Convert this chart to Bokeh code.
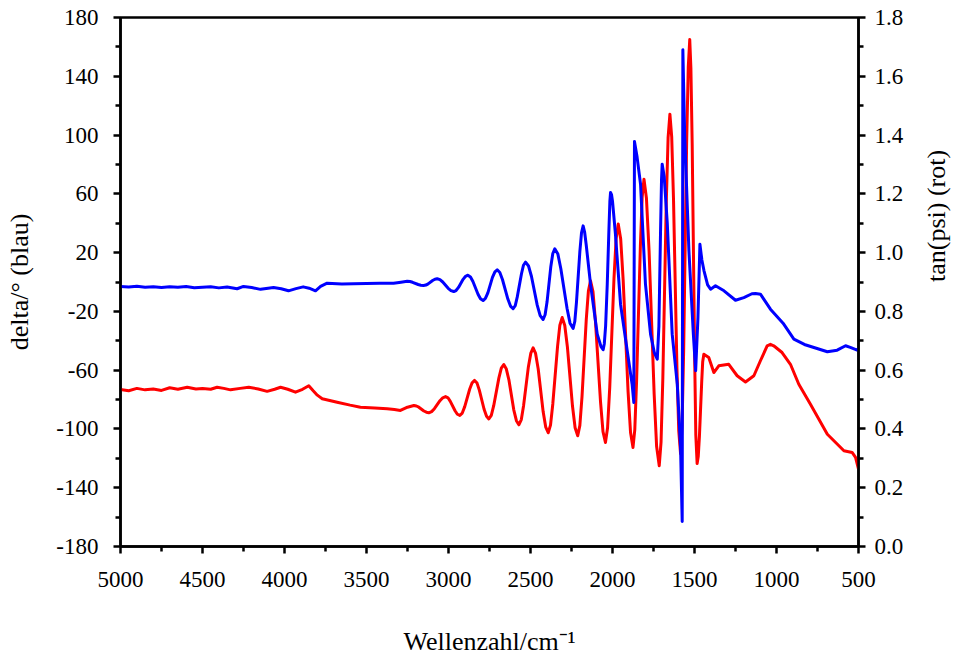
from math import pi

from bokeh.embed import file_html
from bokeh.models import (ColumnDataSource, CustomJSTickFormatter, FixedTicker,
                          LinearAxis, Range1d)
from bokeh.plotting import figure
from bokeh.resources import INLINE

# Ellipsometric spectrum: delta (left axis) and tan(psi) (right axis) vs wavenumber
wn_delta = [5000, 4950, 4900, 4850, 4800, 4750, 4700, 4650, 4600, 4550, 4500, 4450,
            4400, 4350, 4289, 4250, 4200, 4146, 4100, 4067, 4020, 3976, 3930, 3886,
            3850, 3811, 3780, 3740, 3650, 3579, 3500, 3420, 3335, 3290, 3252, 3235,
            3219, 3185, 3169, 3152, 3138, 3124, 3097, 3083, 3069, 3052, 3035, 3002,
            2985, 2968, 2954, 2939, 2911, 2896, 2882, 2866, 2851, 2820, 2805, 2789,
            2775, 2760, 2732, 2717, 2703, 2687, 2671, 2638, 2622, 2606, 2593, 2581,
            2555, 2543, 2530, 2512, 2494, 2459, 2441, 2423, 2411, 2399, 2376, 2364,
            2352, 2333, 2315, 2277, 2259, 2240, 2230, 2220, 2199, 2189, 2179, 2170,
            2160, 2134, 2093, 2070, 2057, 2050, 2042, 2032, 2022, 2016, 2012, 2006,
            2000, 1982, 1951, 1910, 1880, 1870, 1866, 1850, 1829, 1799, 1768, 1745,
            1727, 1717, 1707, 1701, 1697, 1685, 1666, 1636, 1605, 1585, 1575, 1571,
            1560, 1534, 1507, 1493, 1479, 1467, 1455, 1442, 1420, 1402, 1372, 1320,
            1250, 1199, 1150, 1128, 1098, 1037, 960, 894, 830, 772, 690, 630,
            579, 550, 508, 500]
delta = [-3.0, -3.4, -2.9, -3.5, -3.2, -3.8, -3.3, -3.6, -3.1, -3.9, -3.6, -3.3,
         -4.0, -3.4, -4.6, -3.0, -3.8, -5.0, -4.2, -3.8, -4.6, -6.0, -4.5, -3.3,
         -4.2, -6.0, -3.0, -0.8, -1.3, -1.2, -1.0, -0.9, -0.8, -0.1, 0.5, 0.3,
         -0.2, -1.7, -2.2, -2.4, -2.1, -1.25, 1.05, 1.9, 2.2, 1.6, 0.0, -4.3,
         -5.9, -6.5, -5.8, -3.7, 1.8, 3.9, 4.6, 3.4, 0.3, -8.3, -11.4, -12.6,
         -11.2, -7.4, 3.1, 6.9, 8.3, 6.5, 1.7, -11.6, -16.4, -18.2, -16.1, -10.3,
         5.6, 11.4, 13.5, 10.9, 3.75, -15.75, -22.9, -25.5, -22.3, -13.5, 10.6, 19.4,
         22.6, 19.0, 9.0, -18.0, -28.0, -31.6, -26.9, -14.2, 20.8, 33.5, 38.2, 34.0,
         25.0, -1.5, -35.5, -44.0, -46.1, -42.0, -30.0, -1.5, 35.0, 55.0, 60.9, 59.5,
         55.0, 32.5, -15.1, -46.9, -70.0, -82.0, 95.6, 85.0, 66.5, -1.5, -35.5, -48.0,
         -52.5, -30.0, 35.0, 70.0, 80.2, 72.0, 40.0, -35.5, -69.6, -112.6, -163.0, 158.0,
         100.6, 21.2, -35.5, -60.4, -24.2, 25.7, 15.0, 7.6, -2.0, -4.9, -2.6, -6.0,
         -12.4, -10.6, -8.0, -7.8, -8.3, -18.5, -28.0, -38.9, -42.5, -44.6, -47.5, -46.4,
         -43.4, -44.5, -46.4, -45.0]

wn_tan = [5000, 4950, 4900, 4850, 4800, 4750, 4700, 4650, 4593, 4540, 4500, 4450,
          4411, 4370, 4329, 4270, 4218, 4160, 4106, 4060, 4024, 3980, 3933, 3890,
          3852, 3825, 3800, 3770, 3679, 3600, 3537, 3450, 3374, 3330, 3293, 3250,
          3211, 3196, 3181, 3150, 3135, 3120, 3103, 3086, 3052, 3035, 3018, 3003,
          2989, 2960, 2946, 2931, 2916, 2901, 2871, 2856, 2841, 2826, 2812, 2783,
          2768, 2754, 2739, 2724, 2693, 2678, 2663, 2648, 2632, 2602, 2586, 2571,
          2556, 2542, 2513, 2498, 2484, 2469, 2453, 2423, 2407, 2392, 2378, 2364,
          2335, 2321, 2307, 2291, 2275, 2244, 2228, 2212, 2199, 2186, 2160, 2147,
          2134, 2119, 2104, 2073, 2058, 2043, 2030, 2017, 1991, 1978, 1965, 1950,
          1935, 1905, 1890, 1875, 1864, 1853, 1830, 1819, 1808, 1793, 1777, 1746,
          1731, 1715, 1704, 1693, 1672, 1661, 1650, 1639, 1628, 1607, 1596, 1585,
          1576, 1566, 1548, 1538, 1529, 1522, 1514, 1499, 1492, 1484, 1477, 1470,
          1456, 1450, 1443, 1413, 1382, 1352, 1291, 1240, 1189, 1138, 1098, 1057,
          1037, 1017, 966, 915, 864, 793, 690, 589, 539, 518, 500]
tanpsi = [0.534, 0.530, 0.538, 0.533, 0.536, 0.531, 0.540, 0.535, 0.542, 0.536, 0.538, 0.535,
          0.542, 0.538, 0.533, 0.538, 0.542, 0.536, 0.528, 0.535, 0.542, 0.535, 0.525, 0.535,
          0.547, 0.530, 0.515, 0.503, 0.491, 0.481, 0.474, 0.471, 0.469, 0.466, 0.463, 0.474,
          0.480, 0.478, 0.474, 0.461, 0.457, 0.455, 0.459, 0.469, 0.496, 0.506, 0.510, 0.506,
          0.494, 0.462, 0.450, 0.446, 0.454, 0.476, 0.535, 0.557, 0.565, 0.556, 0.532, 0.467,
          0.443, 0.434, 0.446, 0.480, 0.573, 0.607, 0.619, 0.605, 0.568, 0.465, 0.428, 0.414,
          0.432, 0.480, 0.611, 0.658, 0.676, 0.657, 0.604, 0.459, 0.406, 0.387, 0.413, 0.485,
          0.681, 0.753, 0.779, 0.752, 0.679, 0.478, 0.404, 0.377, 0.412, 0.509, 0.772, 0.869,
          0.904, 0.867, 0.767, 0.492, 0.391, 0.354, 0.404, 0.540, 0.911, 1.047, 1.097, 1.046,
          0.907, 0.527, 0.388, 0.337, 0.398, 0.565, 1.022, 1.189, 1.250, 1.185, 1.006, 0.519,
          0.340, 0.275, 0.355, 0.574, 1.172, 1.391, 1.471, 1.394, 1.182, 0.605, 0.393, 0.316,
          0.410, 0.668, 1.373, 1.631, 1.725, 1.628, 1.364, 0.643, 0.379, 0.282, 0.307, 0.375,
          0.561, 0.629, 0.654, 0.643, 0.592, 0.615, 0.620, 0.581, 0.560, 0.581, 0.632, 0.683,
          0.688, 0.683, 0.660, 0.620, 0.552, 0.484, 0.382, 0.326, 0.320, 0.303, 0.263]

x_ticks = [5000, 4500, 4000, 3500, 3000, 2500, 2000, 1500, 1000, 500]
x_minor = [4750, 4250, 3750, 3250, 2750, 2250, 1750, 1250, 750]
delta_ticks = [-180, -140, -100, -60, -20, 20, 60, 100, 140, 180]
delta_minor = [-160, -120, -80, -40, 0, 40, 80, 120, 160]
tan_ticks = [0.0, 0.2, 0.4, 0.6, 0.8, 1.0, 1.2, 1.4, 1.6, 1.8]
tan_minor = [0.1, 0.3, 0.5, 0.7, 0.9, 1.1, 1.3, 1.5, 1.7]

FONT = "Liberation Serif"

p = figure(frame_width=738, frame_height=529,
           min_border_left=120, min_border_right=98,
           min_border_top=17, min_border_bottom=111,
           x_range=Range1d(5000, 500), y_range=Range1d(-180, 180),
           output_backend="svg", toolbar_location=None,
           background_fill_color="white", border_fill_color="white")
p.extra_y_ranges = {"tan": Range1d(0, 1.8)}
p.grid.visible = False
p.outline_line_color = "black"
p.outline_line_width = 2.5

red_src = ColumnDataSource(dict(x=wn_tan, y=tanpsi))
blue_src = ColumnDataSource(dict(x=wn_delta, y=delta))
p.line("x", "y", source=red_src, y_range_name="tan", line_color="#ff0000",
       line_width=3, line_join="round")
p.line("x", "y", source=blue_src, line_color="#0000ff",
       line_width=3, line_join="round")

p.add_layout(LinearAxis(y_range_name="tan"), "right")


def style_axis(ax, ticks, minor, fmt):
    ax.ticker = FixedTicker(ticks=ticks, minor_ticks=minor)
    ax.formatter = CustomJSTickFormatter(code=fmt)
    ax.axis_line_width = 2.5
    ax.major_tick_line_width = 2.5
    ax.minor_tick_line_width = 2.5
    ax.major_tick_in = 0
    ax.minor_tick_in = 0
    ax.major_tick_out = 7
    ax.minor_tick_out = 5
    ax.major_label_text_font = FONT
    ax.major_label_text_font_size = "23px"
    ax.major_label_text_color = "black"
    ax.axis_label_text_font = FONT
    ax.axis_label_text_font_size = "26px"
    ax.axis_label_text_font_style = "normal"
    ax.axis_label_text_color = "black"


xa = p.xaxis[0]
style_axis(xa, x_ticks, x_minor, "return tick.toString();")
xa.major_label_standoff = 18
xa.axis_label = "Wellenzahl/cm\u207b\u00b9"
xa.axis_label_standoff = 37

ya = p.yaxis[0]
style_axis(ya, delta_ticks, delta_minor, "return tick.toString();")
ya.major_label_standoff = 15
ya.axis_label = "delta/° (blau)"
ya.axis_label_standoff = 19

ra = p.yaxis[1]
style_axis(ra, tan_ticks, tan_minor, "return tick.toFixed(1);")
ra.major_label_standoff = 9
ra.axis_label = "tan(psi) (rot)"
ra.axis_label_standoff = 30
# right-hand title reads bottom to top, like the left one
if "axis_label_orientation" in LinearAxis.properties():
    ra.axis_label_orientation = pi / 2

open("out.html", "w").write(file_html(p, INLINE))
